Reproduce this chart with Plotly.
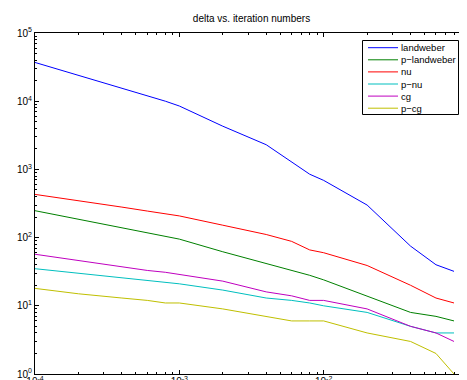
import plotly.graph_objects as go

delta = [1e-4, 2e-4, 4e-4, 6e-4, 8e-4, 1e-3, 2e-3, 4e-3, 6e-3, 8e-3, 1e-2, 2e-2, 4e-2, 6e-2, 8e-2]
landweber = [37000, 24000, 15500, 12200, 10000, 8500, 4300, 2300, 1270, 850, 690, 300, 75, 40, 32]
p_landweber = [248, 186, 140, 118, 105, 95, 62, 42, 33, 28, 24, 14, 8, 7, 6]
nu = [430, 350, 280, 245, 222, 208, 152, 111, 88, 66, 60, 39, 20, 13, 11]
p_nu = [35, 30, 25.5, 23, 22, 21, 17, 13, 12, 11, 10, 8, 5, 4, 4]
cg = [57, 46, 38, 33, 31, 29, 23, 16, 14, 12, 12, 9, 5, 4, 3]
p_cg = [18, 15, 13, 12, 11, 11, 9, 7, 6, 6, 6, 4, 3, 2, 1]

names = ["landweber", "p\u2212landweber", "nu", "p\u2212nu", "cg", "p\u2212cg"]
series = [landweber, p_landweber, nu, p_nu, cg, p_cg]
colors = ["rgb(0,0,255)", "rgb(0,128,0)", "rgb(255,0,0)", "rgb(0,191,191)", "rgb(191,0,191)", "rgb(191,191,0)"]

x_ticks = [1e-4, 1e-3, 1e-2, 1e-1]
x_ticktext = ["10<sup>-4</sup>", "10<sup>-3</sup>", "10<sup>-2</sup>", "10<sup>-1</sup>"]
y_ticks = [1, 10, 100, 1000, 10000, 100000]
y_ticktext = ["10<sup>0</sup>", "10<sup>1</sup>", "10<sup>2</sup>", "10<sup>3</sup>", "10<sup>4</sup>", "10<sup>5</sup>"]

W, H = 467, 380
L, R, T, B = 27, 7, 25, 14
pw, ph = W - L - R, H - T - B

fig = go.Figure()
for name, ys, c in zip(names, series, colors):
    fig.add_trace(go.Scatter(x=delta, y=ys, mode="lines", name=name,
                             line=dict(color=c, width=1), showlegend=False))

FONT = "Liberation Sans, Arial, Helvetica, sans-serif"

def px2paper(px, py):
    return (px - L) / pw, (H - B - py) / ph

# manual legend (MATLAB style)
x0, y0 = px2paper(354.5, 32.5)
x1, y1 = px2paper(450.5, 106.5)
shapes = [dict(type="rect", xref="paper", yref="paper", x0=x0, y0=y1, x1=x1, y1=y0,
               line=dict(color="black", width=1), fillcolor="white", layer="above")]
annotations = []
for i, (name, c) in enumerate(zip(names, colors)):
    py = 39.7 + i * 12.1
    lx0, ly = px2paper(360, py)
    lx1, _ = px2paper(390, py)
    tx, _ = px2paper(392, py)
    shapes.append(dict(type="line", xref="paper", yref="paper", x0=lx0, x1=lx1, y0=ly, y1=ly,
                       line=dict(color=c, width=1), layer="above"))
    annotations.append(dict(xref="paper", yref="paper", x=tx, y=ly, text=name, showarrow=False,
                            xanchor="left", yanchor="middle", borderpad=0,
                            font=dict(size=9.5, color="black", family=FONT)))

axis_common = dict(type="log", showgrid=False, zeroline=False, showline=True, linecolor="black",
                   linewidth=1, mirror="allticks", ticks="inside", ticklen=4, tickcolor="black",
                   tickfont=dict(size=10, color="black", family=FONT),
                   minor=dict(ticks="inside", ticklen=2, tickcolor="black", dtick="D1", showgrid=False))

fig.update_layout(
    width=W, height=H, autosize=False,
    margin=dict(l=L, r=R, t=T, b=B, autoexpand=False),
    paper_bgcolor="white", plot_bgcolor="white",
    title=dict(text="delta vs. iteration numbers", x=0.5, xref="paper", y=1 - 10 / H,
               yref="container", xanchor="center", yanchor="middle",
               font=dict(size=10, color="black", family=FONT)),
    xaxis=dict(range=[-4, -1], tickvals=x_ticks, ticktext=x_ticktext, ticklabelstandoff=-2,
               ticklabeloverflow="allow", **axis_common),
    yaxis=dict(range=[0, 5], tickvals=y_ticks, ticktext=y_ticktext, ticklabeloverflow="allow",
               **axis_common),
    shapes=shapes, annotations=annotations, showlegend=False,
)
fig.update_xaxes(automargin=False)
fig.update_yaxes(automargin=False)
fig.write_html("out.html")
